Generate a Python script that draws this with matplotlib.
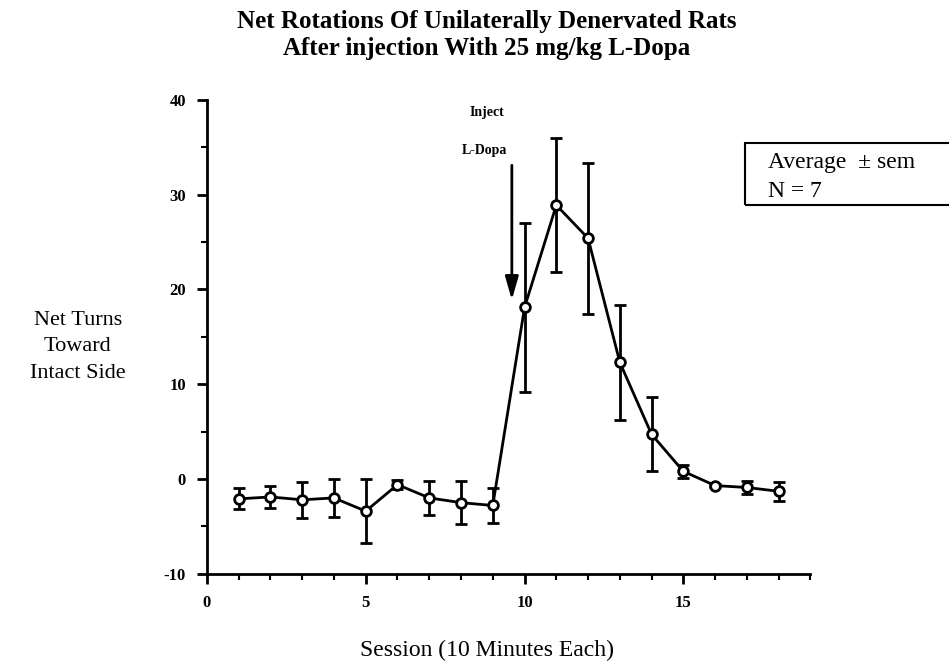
import matplotlib
matplotlib.use("Agg")
import matplotlib.pyplot as plt
from matplotlib.patches import Rectangle
from matplotlib.ticker import MultipleLocator

plt.rcParams['font.family'] = ['Liberation Serif', 'DejaVu Serif']
plt.rcParams['axes.unicode_minus'] = False

sessions = list(range(1, 19))
net_turns = [-2.1, -1.9, -2.2, -2.0, -3.4, -0.6, -2.0, -2.5, -2.8,
             18.1, 28.9, 25.4, 12.3, 4.7, 0.8, -0.7, -0.9, -1.3]
sem = [1.1, 1.2, 1.9, 2.0, 3.4, 0.5, 1.8, 2.3, 1.8,
       8.9, 7.1, 8.0, 6.1, 3.9, 0.7, 0.2, 0.7, 1.0]

fig = plt.figure(figsize=(9.49, 6.71), dpi=100)
ax = fig.add_axes([0.218, 0.145, 0.636, 0.706])

ax.errorbar(sessions, net_turns, yerr=sem, color='black', lw=2,
            elinewidth=2, capsize=4, capthick=2,
            marker='o', ms=7, mfc='white', mec='black', mew=2, zorder=3)

ax.set_xlim(0, 19)
ax.set_ylim(-10, 40)
ax.xaxis.set_major_locator(MultipleLocator(5))
ax.xaxis.set_minor_locator(MultipleLocator(1))
ax.yaxis.set_major_locator(MultipleLocator(10))
ax.yaxis.set_minor_locator(MultipleLocator(5))
ax.spines['top'].set_visible(False)
ax.spines['right'].set_visible(False)
for s in ['left', 'bottom']:
    ax.spines[s].set_linewidth(2)
ax.tick_params(which='major', length=7, width=2, labelsize=12, pad=8)
ax.tick_params(which='minor', length=4, width=1.5)
for lab in ax.get_xticklabels() + ax.get_yticklabels():
    lab.set_fontweight('bold')

# injection marker
ax.annotate('', xy=(9.6, 18.6), xytext=(9.6, 33.4),
            arrowprops=dict(arrowstyle='-|>,head_length=1.4,head_width=0.4',
                            color='black', lw=2))
ax.text(8.8, 38.7, 'Inject', ha='center', va='center', fontsize=10, fontweight='bold')
ax.text(8.75, 34.7, 'L-Dopa', ha='center', va='center', fontsize=10, fontweight='bold')

fig.text(0.513, 0.985, 'Net Rotations Of Unilaterally Denervated Rats\nAfter injection With 25 mg/kg L-Dopa',
         ha='center', va='top', fontsize=18, fontweight='bold', linespacing=1.2)
fig.text(0.082, 0.483, 'Net Turns\nToward\nIntact Side', ha='center', va='center',
         fontsize=16, linespacing=1.55)
fig.text(0.513, 0.031, 'Session (10 Minutes Each)', ha='center', va='center', fontsize=17)

fig.patches.append(Rectangle((0.785, 0.694), 0.3, 0.093, transform=fig.transFigure,
                             fill=False, edgecolor='black', lw=1.5, clip_on=False))
fig.text(0.809, 0.758, 'Average  \u00b1 sem', ha='left', va='center', fontsize=17)
fig.text(0.809, 0.714, 'N = 7', ha='left', va='center', fontsize=17)

fig.savefig('out.png', dpi=100)
